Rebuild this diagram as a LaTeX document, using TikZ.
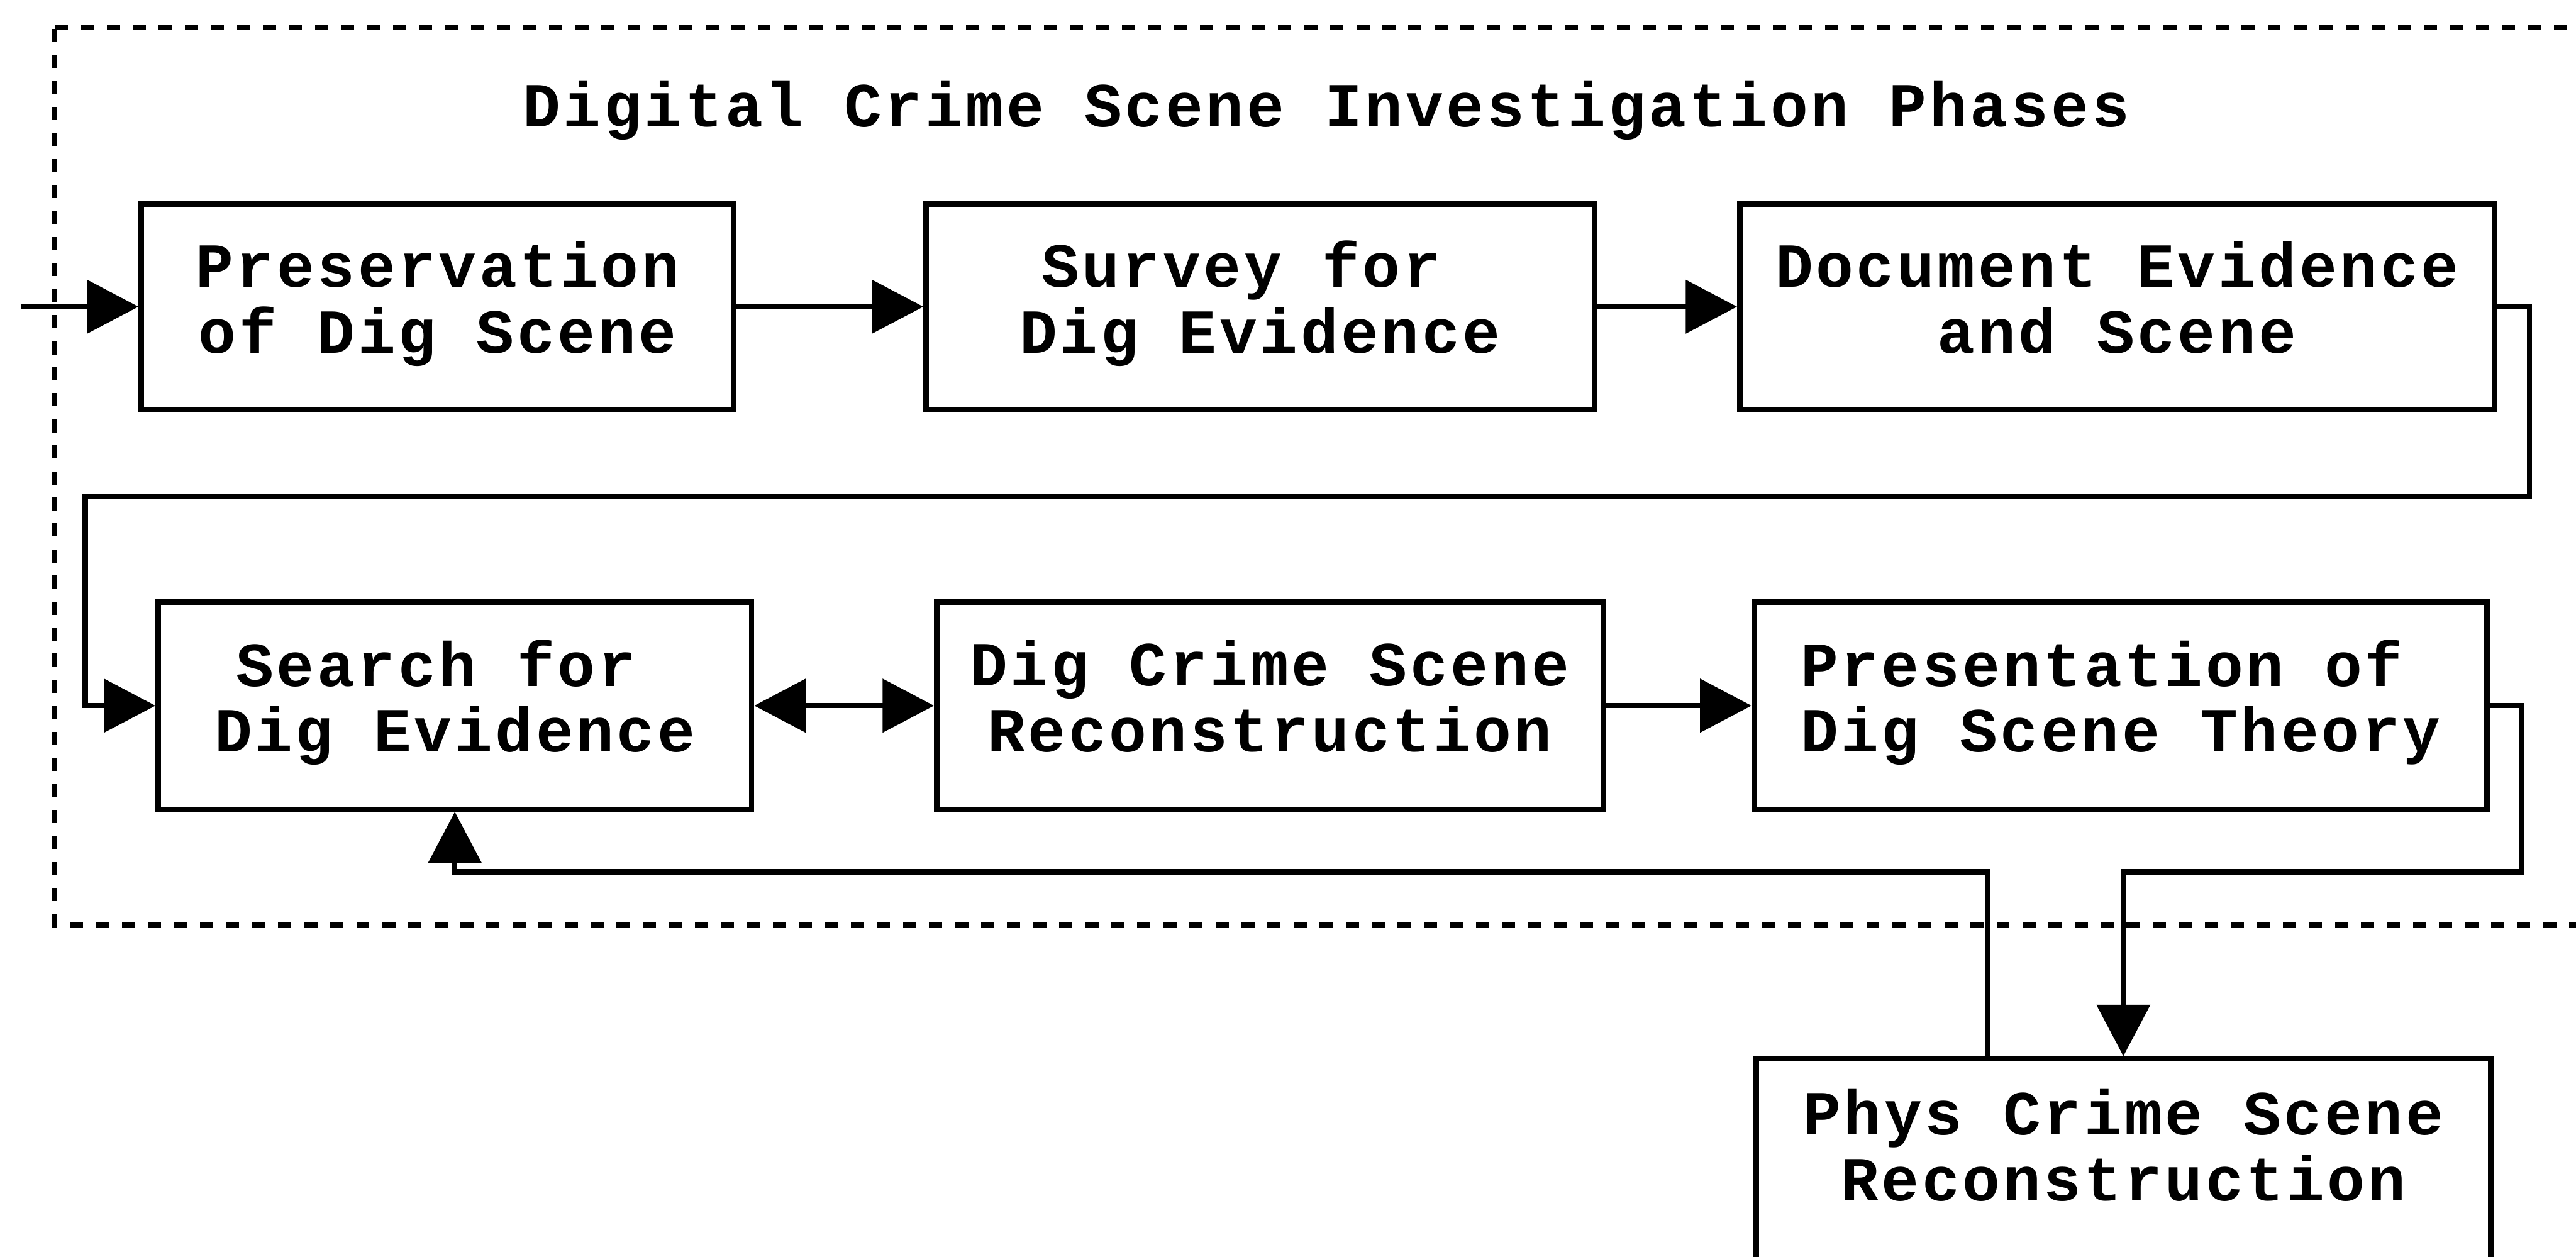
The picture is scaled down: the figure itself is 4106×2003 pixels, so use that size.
\documentclass[tikz,border=0pt]{standalone}
\usepackage{fontspec}
\newfontfamily\courfont{Liberation Mono}[LetterSpace=4.6]
\usetikzlibrary{arrows.meta}
\newcommand\stagefont{\fontsize{10pt}{10.5pt}\courfont\bfseries\lineskiplimit=-20pt\relax}
\newcommand\trailsp{\hphantom{x}}
\tikzset{
  stagebox/.style={draw=black, line width=0.85pt, rectangle, inner sep=0pt,
    align=center, font=\stagefont, fill=white},
  toprow/.style={minimum height=32.7pt},
  botrow/.style={minimum height=33pt},
  flow/.style={line width=0.85pt, -{Triangle[length=8.2pt,width=8.4pt]}},
  biflow/.style={line width=0.85pt, {Triangle[length=8.2pt,width=8.4pt]}-{Triangle[length=8.2pt,width=8.4pt]}},
  frameline/.style={line width=0.9pt, dash pattern=on 2.1pt off 2.05pt},
  titletext/.style={font=\stagefont, inner sep=0pt, anchor=base}
}
\begin{document}
\begin{tikzpicture}[x=0.1pt, y=-0.1pt]
\useasboundingbox (0,0) rectangle (4106,2003);
\clip (0,0) rectangle (4106,2003);
\fill[white] (0,0) rectangle (4106,2003);

% dashed frame
\draw[frameline] (87,44) -- (4160,44);
\draw[frameline] (87,46) -- (87,1474) -- (4160,1474);

% title
\node[titletext] (title) at (2114,202) {Digital Crime Scene Investigation Phases};

% stages
\node[stagebox, toprow, minimum width=94.5pt] (b1) at (697.5,489) {\strut Preservation\\\strut of Dig Scene};
\node[stagebox, toprow, minimum width=106.5pt] (b2) at (2008.5,489) {\strut Survey for\trailsp\\\strut Dig Evidence};
\node[stagebox, toprow, minimum width=120.3pt] (b3) at (3374.5,489) {\strut Document Evidence\\\strut and Scene};
\node[stagebox, botrow, minimum width=94.6pt] (b4) at (725,1125) {\strut Search for\trailsp\\\strut Dig Evidence};
\node[stagebox, botrow, minimum width=106.2pt] (b5) at (2024,1125) {\strut Dig Crime Scene\\\strut Reconstruction};
\node[stagebox, botrow, minimum width=116.8pt] (b6) at (3380,1125) {\strut Presentation of\trailsp\\\strut Dig Scene Theory};
\node[stagebox, minimum width=117.1pt, minimum height=41.2pt] (b7) at (3384.5,1894) {};
\node[font=\stagefont, align=center, inner sep=0pt] (b7t) at ([yshift=-15.65pt]b7.north) {\strut Phys Crime Scene\\\strut Reconstruction};

% waypoints
\coordinate (start) at (33,489);
\coordinate (k1) at (4032,791);
\coordinate (k2) at (136,791);
\coordinate (k3) at (4019,1390);
\coordinate (k4) at (3168,1390);

% connectors
\draw[flow] (start) -- (b1.west);
\draw[flow] (b1.east) -- (b2.west);
\draw[flow] (b2.east) -- (b3.west);
\draw[flow] (b3.east) -| (k1) -- (k2) |- (b4.west);
\draw[biflow] (b4.east) -- (b5.west);
\draw[flow] (b5.east) -- (b6.west);
\draw[flow] (b6.east) -| (k3) -| (b7.north);
\draw[flow] (b7.north -| k4) -- (k4) -| (b4.south);
\end{tikzpicture}
\end{document}
